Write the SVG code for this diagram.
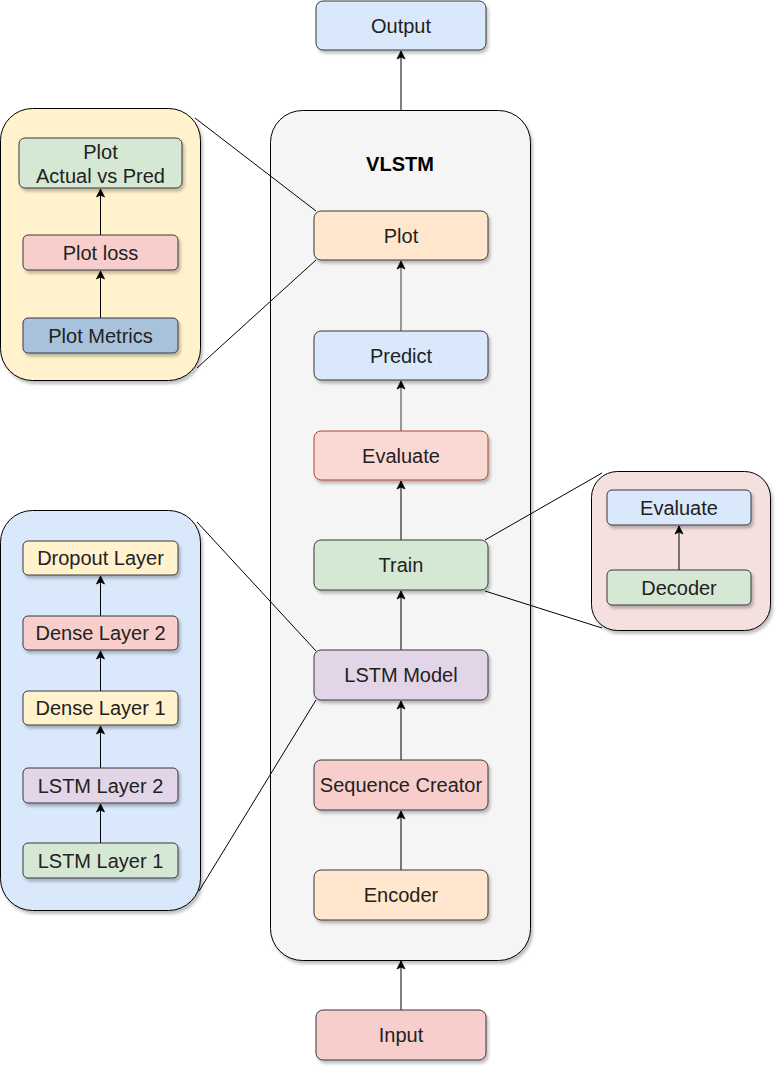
<svg xmlns="http://www.w3.org/2000/svg" width="782" height="1072" viewBox="0 0 782 1072">
<style>
  text { font-family: "Liberation Sans", Arial, sans-serif; font-size: 20px; fill: #222222; text-anchor: middle; }
  .title { font-weight: bold; fill: #000000; }
  .box { stroke: #36393d; stroke-width: 1; }
  .conn { stroke: #000000; stroke-width: 1; fill: none; }
  .gray { stroke: #808080; stroke-width: 1.6; }
  .zoom { stroke: #000000; stroke-width: 1; fill: none; }
</style>
<defs>
  <filter id="sh" x="-10%" y="-10%" width="130%" height="130%">
    <feDropShadow dx="2" dy="3" stdDeviation="1.5" flood-color="#000000" flood-opacity="0.25"/>
  </filter>
  <marker id="arr" markerWidth="10" markerHeight="10" refX="9" refY="5" orient="auto" markerUnits="userSpaceOnUse">
    <path d="M1,1 L9,5 L1,9 L3,5 Z" fill="#000000" stroke="#000000" stroke-width="0.8"/>
  </marker>
</defs>
<rect width="782" height="1072" fill="#ffffff"/>

<!-- container -->
<g id="vlstm">
  <rect x="270.5" y="110.5" width="260" height="850" rx="32" fill="#f5f5f5" stroke="#000000" filter="url(#sh)"/>
  <text class="title" x="400" y="171">VLSTM</text>
</g>

<!-- panels -->
<g id="plot-panel">
  <rect x="0.5" y="108.5" width="200" height="272" rx="32" fill="#fff2cc" stroke="#000000" filter="url(#sh)"/>
</g>
<g id="lstm-panel">
  <rect x="0.5" y="510.5" width="200" height="400" rx="32" fill="#dae8fc" stroke="#000000" filter="url(#sh)"/>
</g>
<g id="train-panel">
  <rect x="591.5" y="471.5" width="179" height="159" rx="26" fill="#f4e0df" stroke="#000000" filter="url(#sh)"/>
</g>

<!-- connectors -->
<g id="connectors">
  <line class="conn" x1="401" y1="110" x2="401" y2="51" marker-end="url(#arr)"/>
  <line class="conn gray" x1="401" y1="331" x2="401" y2="261" marker-end="url(#arr)"/>
  <line class="conn gray" x1="401" y1="431" x2="401" y2="381" marker-end="url(#arr)"/>
  <line class="conn" x1="401" y1="540" x2="401" y2="481" marker-end="url(#arr)"/>
  <line class="conn" x1="401" y1="650" x2="401" y2="591" marker-end="url(#arr)"/>
  <line class="conn" x1="401" y1="760" x2="401" y2="701" marker-end="url(#arr)"/>
  <line class="conn" x1="401" y1="870" x2="401" y2="811" marker-end="url(#arr)"/>
  <line class="conn" x1="401" y1="1010" x2="401" y2="961" marker-end="url(#arr)"/>
  <!-- plot panel inner -->
  <line class="conn" x1="100.5" y1="235" x2="100.5" y2="189" marker-end="url(#arr)"/>
  <line class="conn" x1="100.5" y1="318" x2="100.5" y2="271" marker-end="url(#arr)"/>
  <!-- lstm panel inner -->
  <line class="conn" x1="100.5" y1="616" x2="100.5" y2="576" marker-end="url(#arr)"/>
  <line class="conn" x1="100.5" y1="691" x2="100.5" y2="651" marker-end="url(#arr)"/>
  <line class="conn" x1="100.5" y1="768" x2="100.5" y2="726" marker-end="url(#arr)"/>
  <line class="conn" x1="100.5" y1="843" x2="100.5" y2="804" marker-end="url(#arr)"/>
  <!-- train panel inner -->
  <line class="conn" x1="679" y1="570" x2="679" y2="526" marker-end="url(#arr)"/>
  <!-- zoom lines -->
  <line class="zoom" x1="195" y1="118" x2="316" y2="211"/>
  <line class="zoom" x1="197" y1="368" x2="316" y2="260"/>
  <line class="zoom" x1="197" y1="522" x2="316" y2="651"/>
  <line class="zoom" x1="199" y1="891" x2="316" y2="700"/>
  <line class="zoom" x1="485" y1="540" x2="602" y2="473"/>
  <line class="zoom" x1="485" y1="591" x2="602" y2="628"/>
</g>

<!-- main nodes -->
<g id="output">
  <rect class="box" x="316" y="1" width="170" height="49" rx="7" fill="#dae8fc" filter="url(#sh)"/>
  <text x="401" y="33">Output</text>
</g>
<g id="plot">
  <rect class="box" x="314" y="211" width="174" height="49" rx="7" fill="#ffe6cc" filter="url(#sh)"/>
  <text x="401" y="243">Plot</text>
</g>
<g id="predict">
  <rect class="box" x="314" y="331" width="174" height="49" rx="7" fill="#dae8fc" filter="url(#sh)"/>
  <text x="401" y="363">Predict</text>
</g>
<g id="evaluate">
  <rect x="314" y="431" width="174" height="49" rx="7" fill="#fad9d5" stroke="#ae4132" filter="url(#sh)"/>
  <text x="401" y="463">Evaluate</text>
</g>
<g id="train">
  <rect class="box" x="314" y="540" width="174" height="50" rx="7" fill="#d5e8d4" filter="url(#sh)"/>
  <text x="401" y="572">Train</text>
</g>
<g id="lstm-model">
  <rect class="box" x="314" y="650" width="174" height="50" rx="7" fill="#e1d5e7" filter="url(#sh)"/>
  <text x="401" y="682">LSTM Model</text>
</g>
<g id="sequence-creator">
  <rect class="box" x="314" y="760" width="174" height="50" rx="7" fill="#f8cecc" filter="url(#sh)"/>
  <text x="401" y="792">Sequence Creator</text>
</g>
<g id="encoder">
  <rect class="box" x="314" y="870" width="174" height="50" rx="7" fill="#ffe6cc" filter="url(#sh)"/>
  <text x="401" y="902">Encoder</text>
</g>
<g id="input">
  <rect class="box" x="316" y="1010" width="170" height="50" rx="7" fill="#f8cecc" filter="url(#sh)"/>
  <text x="401" y="1042">Input</text>
</g>

<!-- plot panel nodes -->
<g id="plot-actual">
  <rect class="box" x="19" y="138" width="163" height="50" rx="6" fill="#d5e8d4" filter="url(#sh)"/>
  <text x="100.5" y="159">Plot</text>
  <text x="100.5" y="183">Actual vs Pred</text>
</g>
<g id="plot-loss">
  <rect class="box" x="23" y="235" width="155" height="35" rx="5" fill="#f8cecc" filter="url(#sh)"/>
  <text x="100.5" y="260">Plot loss</text>
</g>
<g id="plot-metrics">
  <rect class="box" x="23" y="318" width="155" height="35" rx="5" fill="#a8c2dc" filter="url(#sh)"/>
  <text x="100.5" y="343">Plot Metrics</text>
</g>

<!-- lstm panel nodes -->
<g id="dropout-layer">
  <rect class="box" x="23" y="541" width="155" height="34" rx="5" fill="#fff2cc" filter="url(#sh)"/>
  <text x="100.5" y="565">Dropout Layer</text>
</g>
<g id="dense-layer-2">
  <rect class="box" x="23" y="616" width="155" height="34" rx="5" fill="#f8cecc" filter="url(#sh)"/>
  <text x="100.5" y="640">Dense Layer 2</text>
</g>
<g id="dense-layer-1">
  <rect class="box" x="23" y="691" width="155" height="34" rx="5" fill="#fff2cc" filter="url(#sh)"/>
  <text x="100.5" y="715">Dense Layer 1</text>
</g>
<g id="lstm-layer-2">
  <rect class="box" x="23" y="768" width="155" height="35" rx="5" fill="#e1d5e7" filter="url(#sh)"/>
  <text x="100.5" y="793">LSTM Layer 2</text>
</g>
<g id="lstm-layer-1">
  <rect class="box" x="23" y="843" width="155" height="35" rx="5" fill="#d5e8d4" filter="url(#sh)"/>
  <text x="100.5" y="868">LSTM Layer 1</text>
</g>

<!-- train panel nodes -->
<g id="evaluate-2">
  <rect class="box" x="607" y="490" width="144" height="35" rx="5" fill="#dae8fc" filter="url(#sh)"/>
  <text x="679" y="515">Evaluate</text>
</g>
<g id="decoder">
  <rect class="box" x="607" y="570" width="144" height="35" rx="5" fill="#d5e8d4" filter="url(#sh)"/>
  <text x="679" y="595">Decoder</text>
</g>
</svg>
